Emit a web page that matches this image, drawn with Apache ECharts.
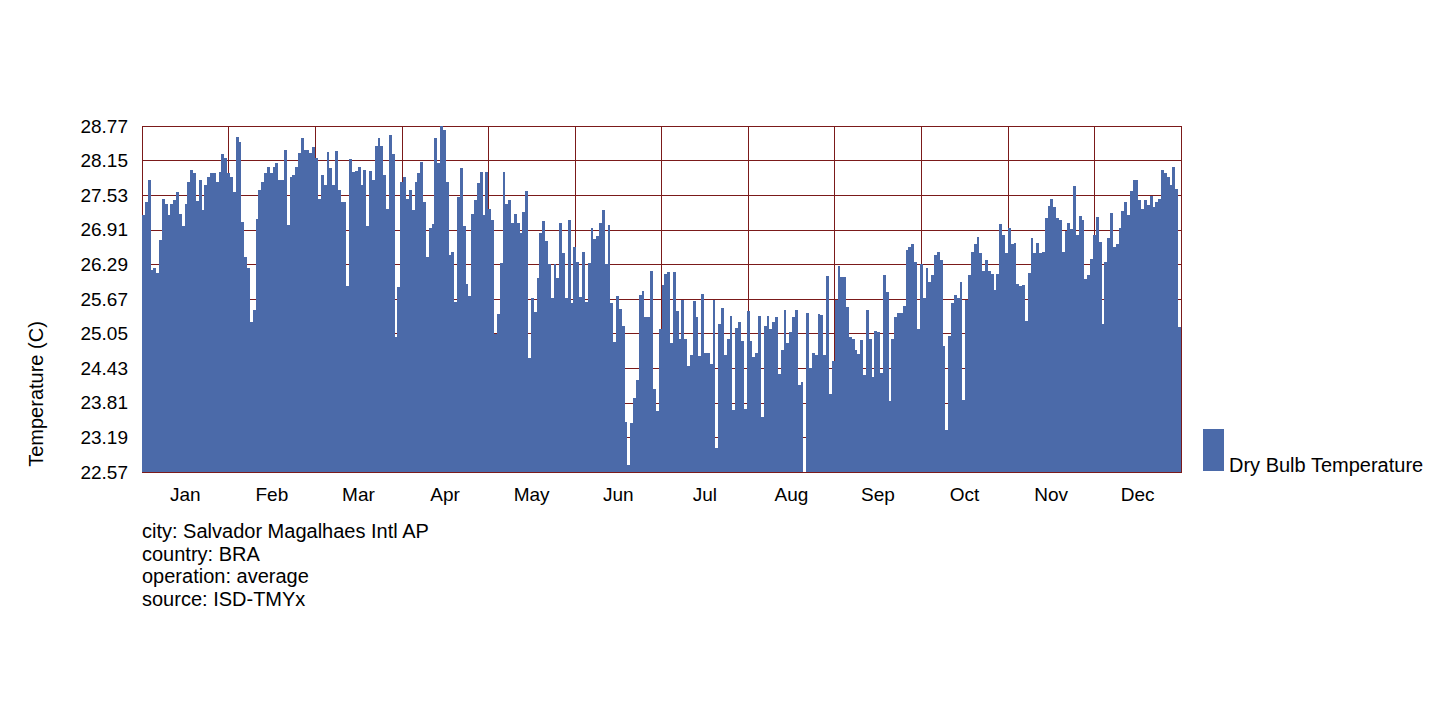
<!DOCTYPE html>
<html>
<head>
<meta charset="utf-8">
<script src="https://cdn.jsdelivr.net/npm/echarts@6/dist/echarts.min.js"></script>
<style>html,body{margin:0;padding:0;background:#fff}#c{width:1450px;height:726px}#c svg path{shape-rendering:crispEdges}</style>
</head>
<body>
<div id="c"></div>
<script>
const months = ['Jan','Feb','Mar','Apr','May','Jun','Jul','Aug','Sep','Oct','Nov','Dec'];
const yTicks = ['22.57','23.19','23.81','24.43','25.05','25.67','26.29','26.91','27.53','28.15','28.77'];
const jan = [27.17,27.41,27.80,26.19,26.22,26.14,26.72,27.46,27.38,27.17,27.38,27.45,27.59,27.20,26.97,27.38,27.77,27.98,27.92,27.43,27.80,27.26,27.71,27.86,27.93,27.93,27.77,27.95,28.26,28.19,27.93];
const feb = [27.85,27.59,28.57,28.49,27.05,26.43,26.22,25.26,25.47,27.10,27.62,27.77,27.92,28.04,27.92,28.04,28.10,27.80,27.80,28.34,27.00,27.85,27.89,28.04,28.28,28.55,28.34,28.34,28.28,28.40];
const mar = [28.19,27.47,27.89,27.71,28.30,28.01,27.71,28.32,27.62,27.41,27.40,25.91,28.17,27.95,27.97,28.04,27.72,27.98,26.98,27.96,27.81,28.41,28.55,28.41,27.89,27.29,28.61,28.26,24.99,25.89];
const apr = [27.77,27.86,27.47,27.63,27.26,27.77,27.93,28.13,27.41,26.43,26.94,27.02,28.55,28.11,28.77,28.70,27.77,26.45,26.52,25.62,27.50,28.01,26.98,25.94,25.72,27.19,27.44,27.74,27.94,27.17];
const may = [27.95,27.29,27.08,25.05,25.41,26.31,27.95,27.38,27.44,27.03,27.20,27.03,26.86,27.23,27.60,24.61,25.68,25.44,26.04,26.86,27.07,26.71,26.30,25.68,26.30,26.04,27.03,26.50,25.68,27.09,25.60];
const jun = [26.61,26.34,25.70,26.52,25.62,26.31,26.94,26.74,26.79,27.04,27.26,26.30,26.99,25.59,24.90,25.73,25.49,25.19,23.47,22.69,23.44,23.89,24.22,25.75,25.82,25.34,25.34,26.18,24.06,23.67];
const jul = [25.14,25.92,26.12,26.16,24.89,26.16,25.46,24.96,25.66,24.96,24.47,24.67,25.64,25.34,24.64,25.76,24.71,24.71,24.50,25.66,23.00,25.22,25.50,24.67,24.96,25.36,23.68,25.15,25.26,24.91,23.69];
const aug = [25.46,24.91,24.63,24.71,25.36,23.55,25.18,25.37,25.14,25.26,25.34,24.33,24.76,25.47,24.89,25.08,25.35,25.48,24.13,24.19,22.57,25.42,24.43,24.71,24.67,25.41,25.38,24.67,26.08,23.97,24.56];
const sep = [25.65,26.26,26.07,26.07,25.53,24.99,24.96,24.76,24.69,24.93,24.31,25.47,24.96,24.27,25.10,25.07,24.34,26.10,25.80,23.84,24.96,25.34,25.42,25.42,25.54,26.54,26.61,26.66,26.34,25.14];
const oct = [26.30,25.68,26.22,25.98,26.10,26.45,26.52,26.36,24.83,23.33,25.01,25.59,25.74,25.68,25.98,23.86,25.65,26.10,26.52,26.66,26.78,26.50,26.18,26.37,26.18,26.12,25.83,26.12,27.01,26.82];
const nov = [26.50,26.95,26.66,26.67,25.94,25.90,25.92,25.28,26.13,26.76,26.50,26.67,26.50,26.52,27.12,27.33,27.46,27.31,27.12,27.09,26.52,26.88,27.04,26.92,27.70,26.82,27.16,27.09,26.02,26.10,26.38];
const dec = [26.82,27.14,26.70,25.22,26.34,26.76,27.22,26.61,26.66,26.94,27.25,27.41,27.17,27.61,27.80,27.81,27.44,27.29,27.44,27.35,27.52,27.31,27.40,27.47,27.99,27.92,27.86,27.71,28.03,27.65,25.16];
const metaLines = ['city: Salvador Magalhaes Intl AP','country: BRA','operation: average','source: ISD-TMYx'];
const yName = 'Temperature (C)';
const seriesName = 'Dry Bulb Temperature';

const values = [].concat(jan,feb,mar,apr,may,jun,jul,aug,sep,oct,nov,dec);
const dayCats = values.map((v,i)=>String(i+1));
const gridColor = '#7b1a1a';
const barColor = '#4b6aa9';
const font = 'Liberation Sans, Arial, sans-serif';

const chart = echarts.init(document.getElementById('c'), null, {renderer:'svg'});
chart.setOption({
  animation:false,
  backgroundColor:'#fff',
  textStyle:{fontFamily:font},
  title:{
    text: metaLines.join('\n'),
    left:142, top:520, padding:0,
    textStyle:{fontSize:20,fontWeight:'normal',color:'#000',lineHeight:22.5,fontFamily:font}
  },
  legend:{
    data:[seriesName],
    left:1203, top:429, padding:0,
    icon:'rect', itemWidth:21, itemHeight:42, itemGap:0,
    formatter: n => '{s| }\n{t|' + n + '}',
    textStyle:{fontSize:20,color:'#000',fontFamily:font,
      rich:{s:{fontSize:20,lineHeight:30},t:{fontSize:20,lineHeight:12,color:'#000',fontFamily:font}}}
  },
  graphic:[{
    type:'text', x:36, y:394, rotation:Math.PI/2,
    style:{text:yName, fontSize:20, fill:'#000', fontFamily:font, align:'center', verticalAlign:'middle'}
  }],
  grid:{left:142,right:269,top:126,bottom:254,show:true,borderColor:gridColor,borderWidth:1,containLabel:false},
  xAxis:[
    {type:'category',data:dayCats,show:false,boundaryGap:true,splitLine:{show:false},splitArea:{show:false}},
    {type:'category',data:months,position:'bottom',boundaryGap:true,
     axisLine:{show:false},axisTick:{show:false},
     axisLabel:{interval:0,fontSize:19,color:'#000',margin:13,fontFamily:font},
     splitLine:{show:true,interval:0,lineStyle:{color:gridColor,width:1}}}
  ],
  yAxis:[
    {type:'value',min:22.57,max:28.77,show:false,splitLine:{show:false}},
    {type:'category',data:yTicks,boundaryGap:false,position:'left',
     axisLine:{show:false},axisTick:{show:false},
     axisLabel:{interval:0,fontSize:19,color:'#000',margin:14,fontFamily:font},
     splitLine:{show:true,interval:0,lineStyle:{color:gridColor,width:1}}}
  ],
  series:[{
    name:seriesName,type:'bar',xAxisIndex:0,yAxisIndex:0,z:5,large:false,
    data:values,barWidth:'100%',barCategoryGap:'0%',barGap:'0%',
    itemStyle:{color:barColor,borderWidth:0}
  }]
});
</script>
</body>
</html>
